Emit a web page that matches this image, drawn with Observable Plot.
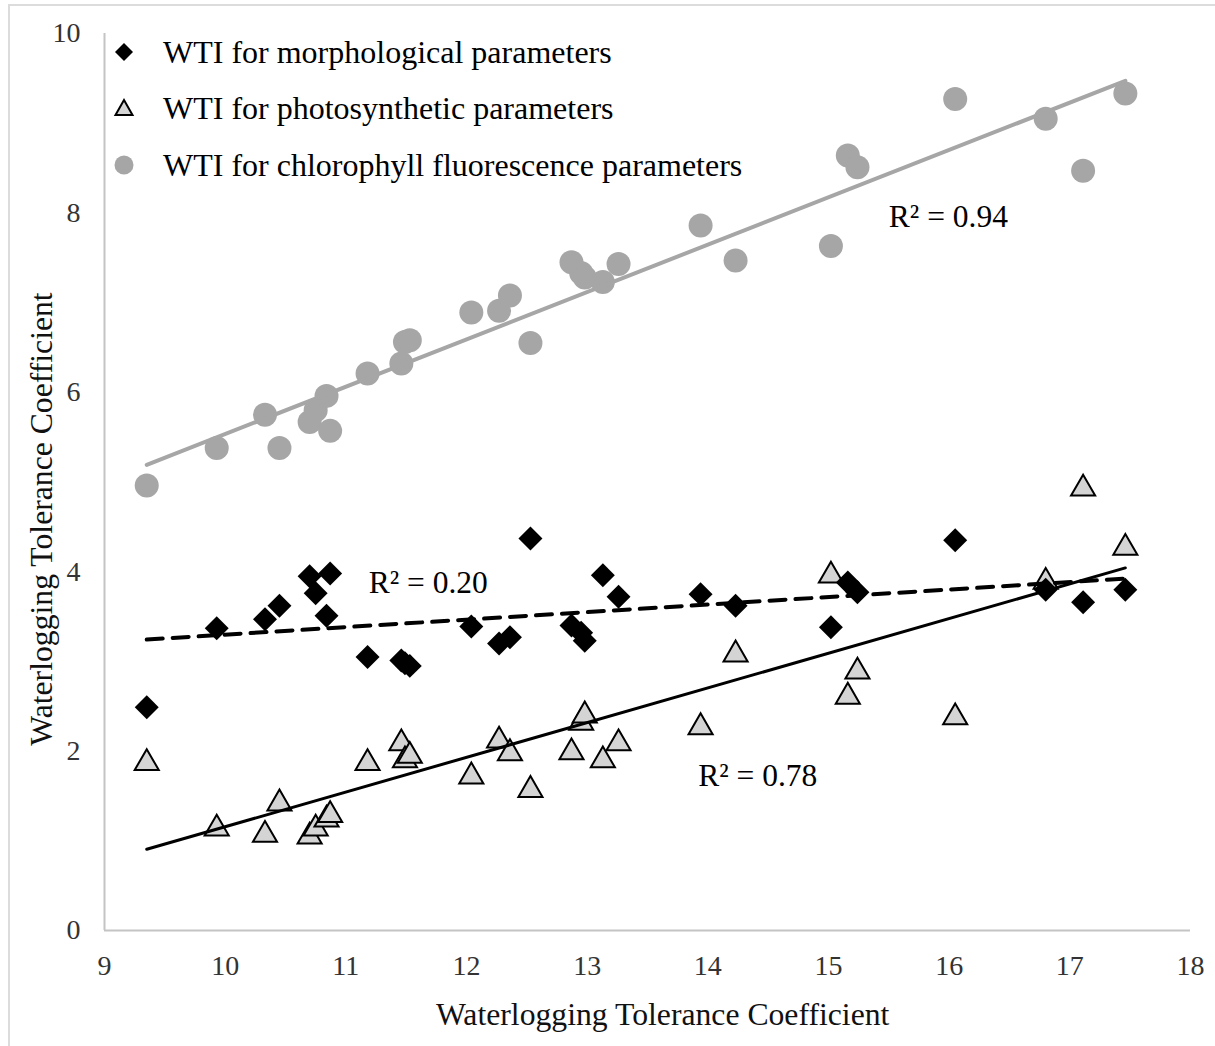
<!DOCTYPE html>
<html>
<head>
<meta charset="utf-8">
<script src="https://cdn.jsdelivr.net/npm/d3@7"></script>
<script src="https://cdn.jsdelivr.net/npm/@observablehq/plot@0.6"></script>
<style>
  html, body { margin: 0; padding: 0; background: #fff; }
  #wrap { position: relative; width: 1215px; height: 1046px; overflow: hidden; font-family: "Liberation Serif", "Times New Roman", serif; }
  #border { position: absolute; left: 8px; top: 4px; width: 1220px; height: 1060px; border-left: 2px solid #dcdcdc; border-top: 2px solid #dcdcdc; }
  .legrow { position: absolute; left: 110px; height: 40px; display: flex; align-items: center; font-size: 32px; color: #000; white-space: nowrap; }
  .legrow svg { width: 28px; height: 28px; margin-right: 25px; }
  .atitle { position: absolute; font-size: 31.7px; color: #111; white-space: nowrap; }
</style>
</head>
<body>
<div id="wrap">
  <div id="border"></div>
  <div id="chart"></div>
  <div id="legend"></div>
  <div class="atitle" id="xtitle"></div>
  <div class="atitle" id="ytitle"></div>
</div>
<script>
// ---- data ----
const wtc      = [9.35, 9.93, 10.33, 10.45, 10.70, 10.75, 10.84, 10.87, 11.18, 11.46, 11.49, 11.53, 12.04, 12.27, 12.36, 12.53, 12.87, 12.95, 12.98, 13.13, 13.26, 13.94, 14.23, 15.02, 15.16, 15.24, 16.05, 16.80, 17.11, 17.46];
const wtiMorph = [2.49, 3.37, 3.47, 3.62, 3.95, 3.76, 3.51, 3.98, 3.05, 3.01, 2.98, 2.95, 3.39, 3.20, 3.27, 4.37, 3.40, 3.32, 3.23, 3.96, 3.72, 3.75, 3.62, 3.38, 3.88, 3.77, 4.35, 3.80, 3.66, 3.80];
const wtiPhoto = [1.90, 1.17, 1.10, 1.45, 1.08, 1.17, 1.27, 1.32, 1.90, 2.12, 1.93, 1.98, 1.75, 2.15, 2.01, 1.60, 2.02, 2.35, 2.43, 1.93, 2.12, 2.30, 3.11, 3.99, 2.64, 2.92, 2.41, 3.92, 4.96, 4.30];
const wtiChl   = [4.96, 5.38, 5.75, 5.38, 5.67, 5.80, 5.96, 5.57, 6.21, 6.32, 6.56, 6.58, 6.89, 6.91, 7.08, 6.55, 7.45, 7.33, 7.28, 7.23, 7.43, 7.86, 7.47, 7.63, 8.64, 8.51, 9.27, 9.05, 8.47, 9.33];

const seriesNames = ["WTI for morphological parameters", "WTI for photosynthetic parameters", "WTI for chlorophyll fluorescence parameters"];
const xTicks = [9, 10, 11, 12, 13, 14, 15, 16, 17, 18];
const yTicks = [0, 2, 4, 6, 8, 10];
const xDomain = [9, 18];
const yDomain = [0, 10];
const axisTitle = "Waterlogging Tolerance Coefficient";
const r2Text = ["R\u00B2 = 0.94", "R\u00B2 = 0.20", "R\u00B2 = 0.78"];
const r2X = [15.5, 11.19, 13.92];
const r2Y = [7.95, 3.88, 1.72];

// ---- tables built from the arrays ----
const rows = wtc.map((x, i) => ({x, morph: wtiMorph[i], photo: wtiPhoto[i], chl: wtiChl[i]}));
const notes = r2Text.map((t, i) => ({x: r2X[i], y: r2Y[i], t}));

const FONT = '"Liberation Serif", "Times New Roman", serif';
const GRAY = "#a6a6a6";
const TRI = "#d4d4d4";

const chart = Plot.plot({
  width: 1215,
  height: 1046,
  marginLeft: 104,
  marginRight: 25,
  marginTop: 33,
  marginBottom: 116,
  style: {fontFamily: FONT, fontSize: "28px", color: "#333", background: "transparent", overflow: "visible"},
  x: {domain: xDomain, ticks: xTicks, tickSize: 0, tickPadding: 25, tickFormat: d => String(d), label: null},
  y: {domain: yDomain, ticks: yTicks, tickSize: 0, tickPadding: 24, tickFormat: d => String(d), label: null},
  marks: [
    Plot.ruleY([yDomain[0]], {stroke: "#c4c4c4", strokeWidth: 2, x1: xDomain[0], x2: xDomain[1]}),
    Plot.ruleX([xDomain[0]], {stroke: "#c4c4c4", strokeWidth: 2, y1: yDomain[0], y2: yDomain[1]}),
    Plot.dot(rows, {x: "x", y: "chl", r: 12, fill: GRAY, stroke: "none"}),
    Plot.dot(rows, {x: "x", y: "photo", symbol: "triangle2", r: 11.5, dy: 3, fill: TRI, stroke: "#000", strokeWidth: 2}),
    Plot.dot(rows, {x: "x", y: "morph", symbol: "diamond2", r: 10.8, fill: "#000", stroke: "none"}),
    Plot.linearRegressionY(rows, {x: "x", y: "chl", stroke: GRAY, strokeWidth: 4, ci: 0}),
    Plot.linearRegressionY(rows, {x: "x", y: "morph", stroke: "#000", strokeWidth: 4, strokeDasharray: "16,10", ci: 0}),
    Plot.linearRegressionY(rows, {x: "x", y: "photo", stroke: "#000", strokeWidth: 3, ci: 0}),
    Plot.text(notes, {x: "x", y: "y", text: "t", textAnchor: "start", fontSize: 31.5, fill: "#000", fontFamily: FONT})
  ]
});
document.getElementById("chart").appendChild(chart);

// ---- legend (HTML, inside plot area top-left) ----
const legendSymbols = [
  '<svg viewBox="-14 -14 28 28"><path d="M0,-9L9,0L0,9L-9,0Z" fill="#000"/></svg>',
  '<svg viewBox="-14 -14 28 28"><path d="M0,-8L8.5,7L-8.5,7Z" fill="' + TRI + '" stroke="#000" stroke-width="2"/></svg>',
  '<svg viewBox="-14 -14 28 28"><circle r="9.5" fill="' + GRAY + '"/></svg>'
];
const legendTops = [32, 88, 145];
const legend = document.getElementById("legend");
seriesNames.forEach((name, i) => {
  const row = document.createElement("div");
  row.className = "legrow";
  row.style.top = legendTops[i] + "px";
  row.innerHTML = legendSymbols[i] + "<span>" + name + "</span>";
  legend.appendChild(row);
});

// ---- axis titles ----
const xt = document.getElementById("xtitle");
xt.textContent = axisTitle;
xt.style.left = "436px";
xt.style.top = "997px";
const yt = document.getElementById("ytitle");
yt.textContent = axisTitle;
yt.style.left = "42px";
yt.style.top = "519px";
yt.style.transform = "translate(-50%, -50%) rotate(-90deg)";
</script>
</body>
</html>
